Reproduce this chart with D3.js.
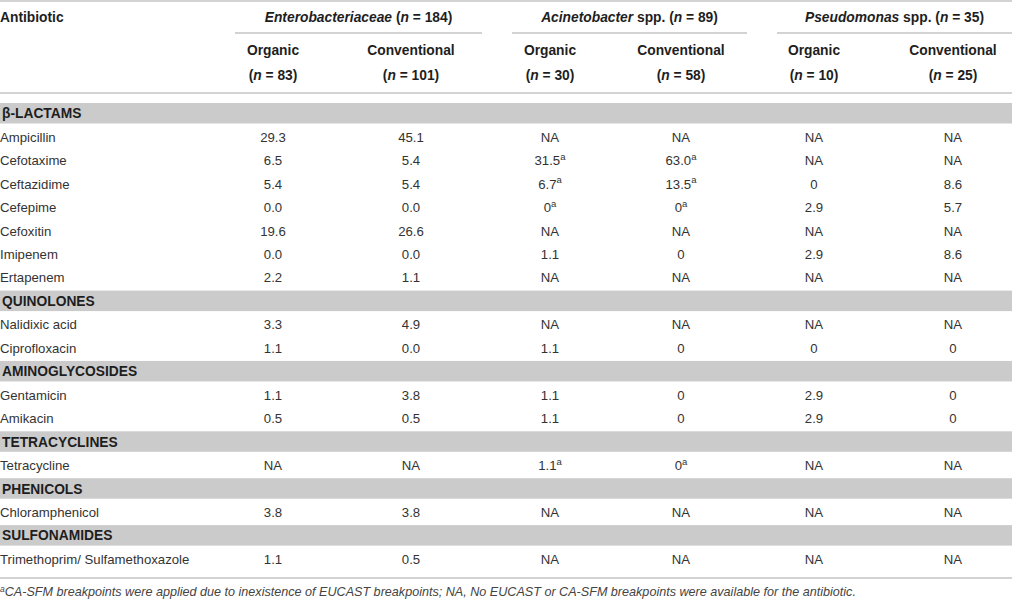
<!DOCTYPE html>
<html><head><meta charset="utf-8">
<script src="https://cdn.jsdelivr.net/npm/d3@7"></script>
<style>
html,body{margin:0;padding:0;background:#fff;}
svg{display:block;}
text{font-family:"Helvetica Neue",Arial,"Liberation Sans",sans-serif;}
</style></head>
<body>
<svg id="chart" width="1012" height="601"></svg>
<script>
// ---- data ----
const groups = [
  {name: "Enterobacteriaceae", suffix: " (n = 184)"},
  {name: "Acinetobacter", suffix: " spp. (n = 89)"},
  {name: "Pseudomonas", suffix: " spp. (n = 35)"}
];
const subHeaders = ["Organic", "Conventional", "Organic", "Conventional", "Organic", "Conventional"];
const subN = ["83", "101", "30", "58", "10", "25"];
const sections = ["β-LACTAMS", "QUINOLONES", "AMINOGLYCOSIDES", "TETRACYCLINES", "PHENICOLS", "SULFONAMIDES"];
const antibiotics = [
  ["Ampicillin", "Cefotaxime", "Ceftazidime", "Cefepime", "Cefoxitin", "Imipenem", "Ertapenem"],
  ["Nalidixic acid", "Ciprofloxacin"],
  ["Gentamicin", "Amikacin"],
  ["Tetracycline"],
  ["Chloramphenicol"],
  ["Trimethoprim/ Sulfamethoxazole"]
];
// values in row order; "^a" marks superscript a
const entOrganic   = ["29.3","6.5","5.4","0.0","19.6","0.0","2.2","3.3","1.1","1.1","0.5","NA","3.8","1.1"];
const entConv      = ["45.1","5.4","5.4","0.0","26.6","0.0","1.1","4.9","0.0","3.8","0.5","NA","3.8","0.5"];
const aciOrganic   = ["NA","31.5^a","6.7^a","0^a","NA","1.1","NA","NA","1.1","1.1","1.1","1.1^a","NA","NA"];
const aciConv      = ["NA","63.0^a","13.5^a","0^a","NA","0","NA","NA","0","0","0","0^a","NA","NA"];
const pseOrganic   = ["NA","NA","0","2.9","NA","2.9","NA","NA","0","2.9","2.9","NA","NA","NA"];
const pseConv      = ["NA","NA","8.6","5.7","NA","8.6","NA","NA","0","0","0","NA","NA","NA"];
const footnote = "CA-SFM breakpoints were applied due to inexistence of EUCAST breakpoints; NA, No EUCAST or CA-SFM breakpoints were available for the antibiotic.";

// ---- layout ----
const W = 1012;
const svg = d3.select("#chart");
const valueCols = [entOrganic, entConv, aciOrganic, aciConv, pseOrganic, pseConv];
const colCenters = [273, 411, 550, 681, 814, 953];
const groupSpans = [[235, 482], [512, 747], [777, 1012]];
const lineColor = "#c4c4c4";
const bandColor = "#cbcbcb";
const textColor = "#333";
const headColor = "#1e1e1e";
const headSize = 13.8, bodySize = 13.2;

// build row list
const rows = [];
let vi = 0;
sections.forEach((s, si) => {
  rows.push({type: "section", label: s});
  antibiotics[si].forEach(a => {
    rows.push({type: "data", label: a, vals: valueCols.map(c => c[vi])});
    vi++;
  });
});

const y = d3.scaleBand().domain(d3.range(rows.length)).range([101.5, 101.5 + 23.45 * rows.length]).paddingInner(0);
const x = d3.scaleOrdinal().domain(d3.range(6)).range(colCenters);

function hline(x1, x2, yy, w) {
  svg.append("line").attr("x1", x1).attr("x2", x2).attr("y1", yy).attr("y2", yy)
    .attr("stroke", lineColor).attr("stroke-width", w || 1.6);
}
hline(0, W, 1);
groupSpans.forEach(g => hline(g[0], g[1], 33));
hline(0, W, 93);

// header texts
svg.append("text").attr("x", 0).attr("y", 22).attr("font-size", headSize).attr("font-weight", "bold")
  .attr("fill", headColor).text("Antibiotic");

groups.forEach((g, i) => {
  const t = svg.append("text").attr("x", (groupSpans[i][0] + groupSpans[i][1]) / 2).attr("y", 22)
    .attr("text-anchor", "middle").attr("font-size", headSize).attr("font-weight", "bold").attr("fill", headColor);
  t.append("tspan").attr("font-style", "italic").text(g.name);
  const m = g.suffix.match(/^(.*\()n( = .*)$/);
  t.append("tspan").text(m[1]);
  t.append("tspan").attr("font-style", "italic").text("n");
  t.append("tspan").text(m[2]);
});

subHeaders.forEach((s, i) => {
  svg.append("text").attr("x", x(i)).attr("y", 55).attr("text-anchor", "middle")
    .attr("font-size", headSize).attr("font-weight", "bold").attr("fill", headColor).text(s);
  const t = svg.append("text").attr("x", x(i)).attr("y", 80).attr("text-anchor", "middle")
    .attr("font-size", headSize).attr("font-weight", "bold").attr("fill", headColor);
  t.append("tspan").text("(");
  t.append("tspan").attr("font-style", "italic").text("n");
  t.append("tspan").text(" = " + subN[i] + ")");
});

// rows
const g = svg.append("g");
rows.forEach((r, i) => {
  const top = y(i);
  if (r.type === "section") {
    g.append("rect").attr("x", 0).attr("y", top + 1.5).attr("width", W).attr("height", 20.5).attr("fill", bandColor);
    g.append("text").attr("x", 2).attr("y", top + 16.8).attr("font-size", headSize).attr("font-weight", "bold")
      .attr("fill", headColor).text(r.label);
  } else {
    g.append("text").attr("x", 0).attr("y", top + 16.8).attr("font-size", bodySize).attr("fill", textColor).text(r.label);
    r.vals.forEach((v, ci) => {
      const t = g.append("text").attr("x", x(ci)).attr("y", top + 16.8).attr("text-anchor", "middle")
        .attr("font-size", bodySize).attr("fill", textColor);
      const parts = v.split("^");
      t.append("tspan").text(parts[0]);
      if (parts[1]) t.append("tspan").attr("font-size", 9.5).attr("dy", -5.5).text(parts[1]);
    });
  }
});

const bottom = y.range()[1] + 7.5;
hline(0, W, bottom);

// footnote
const ft = svg.append("text").attr("x", 0).attr("y", bottom + 18).attr("font-size", 12.6)
  .attr("font-style", "italic").attr("fill", "#444");
ft.append("tspan").attr("font-size", 8.5).attr("dy", -4.5).text("a");
ft.append("tspan").attr("dy", 4.5).text(footnote);
</script>
</body></html>
